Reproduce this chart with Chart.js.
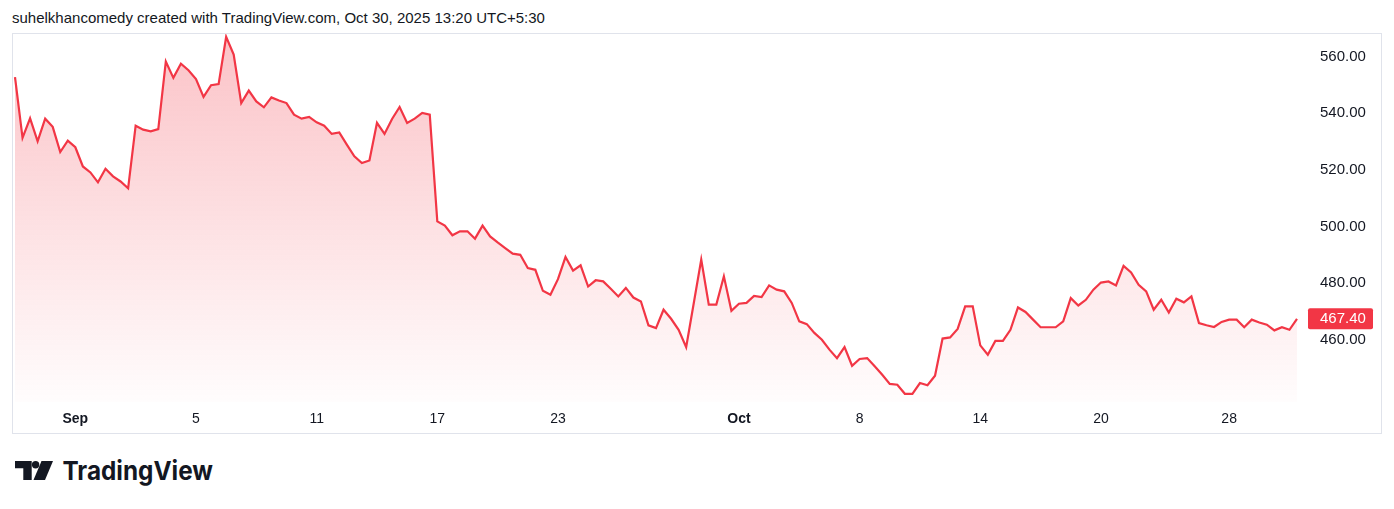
<!DOCTYPE html>
<html>
<head>
<meta charset="utf-8">
<script src="https://cdn.jsdelivr.net/npm/chart.js@4.4.1/dist/chart.umd.min.js"></script>
<style>
    body {
        margin: 0;
        background: #ffffff;
        width: 1394px;
        height: 509px;
        position: relative;
        overflow: hidden;
        font-family: "Liberation Sans", Arial, sans-serif;
        color: #131722;
    }
    .title {
        position: absolute;
        left: 12px;
        top: 8px;
        font-size: 15px;
        line-height: 20px;
        white-space: nowrap;
    }
    .frame {
        position: absolute;
        left: 12px;
        top: 33px;
        width: 1368px;
        height: 399px;
        border: 1px solid #e0e3eb;
    }
    .logo {
        position: absolute;
        left: 0;
        top: 450px;
    }
</style>
</head>
<body>
<div class="title">suhelkhancomedy created with TradingView.com, Oct 30, 2025 13:20 UTC+5:30</div>
<div class="frame"><canvas id="myChart"></canvas></div>
<svg class="logo" width="240" height="45" viewBox="0 450 240 45">
    <path d="M15 461 H31.7 V480 H23.3 V468.3 H15 Z" fill="#131722"/>
    <circle cx="35.6" cy="464.8" r="3.7" fill="#131722"/>
    <path d="M41.5 461 H53 L45 480 H33.5 Z" fill="#131722"/>
    <text x="62.5" y="480" font-family="Inter, Lato, sans-serif" font-weight="700" font-size="26"
          textLength="150.5" lengthAdjust="spacingAndGlyphs" fill="#131722">TradingView</text>
</svg>
<script>
// price series, one value per 2h bar (Aug 28 .. Oct 30)
let closes = [
    552.8, 531.3, 538.2, 530.1, 538.1, 535.2, 526.3, 530.3, 528.0, 521.2,
    519.1, 515.6, 520.4, 517.7, 515.9, 513.5, 535.6, 534.2, 533.6, 534.4,
    558.3, 552.5, 557.5, 555.2, 552.1, 545.8, 549.9, 550.3, 567.0, 560.7,
    543.6, 548.0, 544.2, 542.1, 545.6, 544.5, 543.6, 539.5, 538.1, 538.7,
    536.8, 535.6, 532.7, 533.2, 528.9, 524.8, 522.4, 523.3, 536.6, 532.7,
    538.0, 542.2, 536.6, 538.1, 540.1, 539.5, 501.8, 500.3, 496.9, 498.3,
    498.3, 495.7, 500.3, 496.5, 494.4, 492.4, 490.4, 490.0, 485.3, 484.7,
    477.3, 475.9, 481.4, 489.2, 484.4, 486.3, 478.8, 481.0, 480.6, 478.0,
    475.3, 478.3, 474.9, 473.5, 465.1, 464.1, 470.6, 467.4, 463.5, 457.4,
    472.8, 488.3, 472.4, 472.4, 482.4, 470.2, 472.7, 473.0, 475.5, 475.1,
    479.2, 477.7, 477.1, 473.0, 466.5, 465.5, 462.4, 460.0, 456.5, 453.5,
    457.4, 450.8, 453.2, 453.5, 450.6, 447.6, 444.4, 444.1, 440.9, 440.9,
    444.7, 443.9, 447.3, 460.4, 460.8, 463.8, 471.8, 471.8, 458.0, 454.7,
    459.6, 459.6, 463.5, 471.4, 469.8, 467.1, 464.4, 464.4, 464.4, 466.5,
    474.7, 472.1, 474.1, 477.7, 480.2, 480.6, 479.2, 486.1, 483.8, 479.4,
    477.1, 470.6, 474.1, 469.6, 474.5, 473.2, 475.3, 465.9, 465.1, 464.5,
    466.3, 467.1, 467.1, 464.4, 467.1, 466.1, 465.3, 463.3, 464.4, 463.5,
    467.4
]

// x axis labels and the bar they sit on
let tickLabels = ["Sep", "5", "11", "17", "23", "Oct", "8", "14", "20", "28"]
let tickIndex = [8, 24, 40, 56, 72, 96, 112, 128, 144, 161]
let boldLabels = ["Sep", "Oct"]

// y axis
let yTicks = [460, 480, 500, 520, 540, 560]
let yMin = 438,
    yMax = 568

let lineColor = '#f23645',
    textColor = '#131722',
    fontFamily = '"Liberation Sans", Arial, sans-serif'

// one category per bar, only some of them carry a label
let categories = closes.map(() => '')
tickIndex.forEach((idx, k) => { categories[idx] = tickLabels[k] })

function areaGradient(context) {
    let chart = context.chart
    let area = chart.chartArea
    if (!area) return null
    let g = chart.ctx.createLinearGradient(0, area.top, 0, area.bottom)
    g.addColorStop(0, 'rgba(242, 54, 69, 0.30)')
    g.addColorStop(1, 'rgba(242, 54, 69, 0.01)')
    return g
}

// chart.js pads the plot area for tick labels, the reference has none
function noPadding(scale) {
    scale.paddingTop = 0
    scale.paddingBottom = 0
    scale.paddingLeft = 0
    scale.paddingRight = 0
}

// red box with the last price on the right axis
let lastPriceLabel = {
    id: 'lastPriceLabel',
    afterDraw(chart) {
        let c = chart.ctx
        let y = chart.scales.y.getPixelForValue(closes[closes.length - 1])
        let x = chart.chartArea.right + 11
        c.save()
        c.fillStyle = lineColor
        c.beginPath()
        c.roundRect(x, y - 10.5, 65, 21, 2)
        c.fill()
        c.fillStyle = '#ffffff'
        c.font = '15px ' + fontFamily
        c.textBaseline = 'middle'
        c.textAlign = 'left'
        c.fillText(closes[closes.length - 1].toFixed(2), chart.chartArea.right + 23, y + 0.5)
        c.restore()
    }
}

let ctx = document.getElementById('myChart').getContext('2d')
let myChart = new Chart(ctx, {
    type: 'line',
    data: {
        labels: categories,
        datasets: [{
            data: closes,
            borderColor: lineColor,
            borderWidth: 2.2,
            pointRadius: 0,
            tension: 0,
            fill: 'start',
            clip: false,
            backgroundColor: areaGradient
        }]
    },
    options: {
        responsive: true,
        maintainAspectRatio: false,
        animation: false,
        layout: { padding: { left: 2, top: 0, right: 0, bottom: 0 } },
        plugins: {
            legend: { display: false },
            tooltip: { enabled: false }
        },
        scales: {
            x: {
                grid: { display: false, drawTicks: false },
                border: { display: false },
                ticks: {
                    autoSkip: false,
                    maxRotation: 0,
                    padding: 9,
                    color: textColor,
                    font: (c) => ({
                        family: fontFamily,
                        size: 14,
                        weight: c.tick && boldLabels.includes(c.tick.label) ? 'bold' : 'normal'
                    }),
                    callback: (v, i) => categories[i]
                },
                afterFit: (s) => {
                    s.height = 31
                    noPadding(s)
                }
            },
            y: {
                position: 'right',
                min: yMin,
                max: yMax,
                grid: { display: false, drawTicks: false },
                border: { display: false },
                ticks: {
                    padding: 23,
                    color: textColor,
                    font: { family: fontFamily, size: 15 },
                    callback: (v) => Number(v).toFixed(2)
                },
                afterBuildTicks: (s) => { s.ticks = yTicks.map(v => ({ value: v })) },
                afterFit: (s) => {
                    s.width = 84
                    noPadding(s)
                }
            }
        }
    },
    plugins: [lastPriceLabel]
});
</script>
</body>
</html>
